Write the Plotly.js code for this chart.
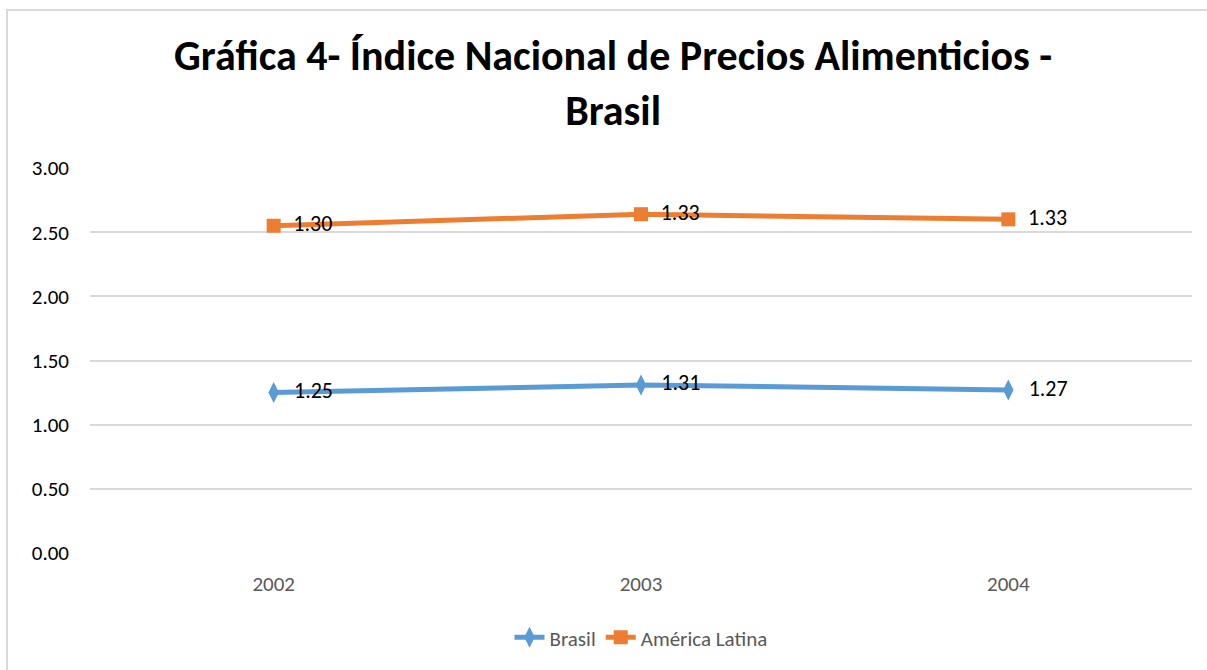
<!DOCTYPE html>
<html>
<head>
<meta charset="utf-8">
<script src="https://cdn.plot.ly/plotly-3.0.1.min.js"></script>
<style>
html,body{margin:0;padding:0;background:#fff;}
#wrap{position:absolute;left:0;top:0;width:1207px;height:670px;}
#frame{position:absolute;left:6px;top:9px;width:1201px;height:661px;border-left:2px solid #d9d9d9;border-top:2px solid #d9d9d9;pointer-events:none;}
#chart{position:absolute;left:0;top:0;width:1207px;height:670px;}
</style>
</head>
<body>
<div id="wrap"><div id="chart"></div><div id="frame"></div></div>
<script>
const categories = ["2002", "2003", "2004"];
const brasil = [1.25, 1.31, 1.27];
const americaLatina = [1.30, 1.33, 1.33];
const seriesNames = ["Brasil", "América Latina"];
const yTicks = [0, 0.5, 1, 1.5, 2, 2.5, 3];

const fontFam = "Carlito, Calibri, Lato, 'Open Sans', sans-serif";
const pad = "\u00a0\u00a0";

const traces = [
  {
    x: categories, y: brasil, name: seriesNames[0], type: "scatter",
    mode: "lines+markers+text", stackgroup: "one", fill: "none",
    line: {color: "#5b9bd5", width: 5},
    marker: {symbol: "diamond-tall", size: 15, color: "#5b9bd5"},
    text: brasil.map(v => pad + v.toFixed(2)), textposition: "middle right",
    textfont: {family: fontFam, size: 22, color: "#000"},
    hoverinfo: "x+text+name"
  },
  {
    x: categories, y: americaLatina, name: seriesNames[1], type: "scatter",
    mode: "lines+markers+text", stackgroup: "one", fill: "none",
    line: {color: "#ed7d31", width: 5},
    marker: {symbol: "square", size: 14, color: "#ed7d31"},
    text: americaLatina.map(v => pad + v.toFixed(2)), textposition: "middle right",
    textfont: {family: fontFam, size: 22, color: "#000"},
    hoverinfo: "x+text+name"
  }
];

const layout = {
  width: 1207, height: 670,
  paper_bgcolor: "#fff", plot_bgcolor: "#fff",
  margin: {l: 90, r: 15, t: 168, b: 115},
  font: {family: fontFam, color: "#000"},
  title: {
    text: "<b>Gráfica 4- Índice Nacional de Precios Alimenticios -<br>Brasil</b>",
    font: {family: fontFam, size: 42, color: "#000"},
    x: 0.508, xanchor: "center", yref: "container", y: 0.895, yanchor: "middle"
  },
  xaxis: {
    type: "category", range: [-0.5, 2.5], showgrid: false, zeroline: false,
    showline: false, ticks: "", ticklabelstandoff: 16,
    tickfont: {family: fontFam, size: 21, color: "#595959"}
  },
  yaxis: {
    range: [0, 3], tickvals: yTicks, tickformat: ".2f",
    showgrid: true, gridcolor: "#d9d9d9", gridwidth: 2,
    zeroline: false, showline: false, ticks: "", ticklabelstandoff: 20,
    tickfont: {family: fontFam, size: 21, color: "#000"}
  },
  legend: {
    orientation: "h", x: 0.5, xanchor: "center", y: -0.22, yanchor: "middle",
    font: {family: fontFam, size: 21, color: "#595959"},
    traceorder: "normal"
  },
  showlegend: true
};

Plotly.newPlot("chart", traces, layout, {displayModeBar: false});
</script>
</body>
</html>
